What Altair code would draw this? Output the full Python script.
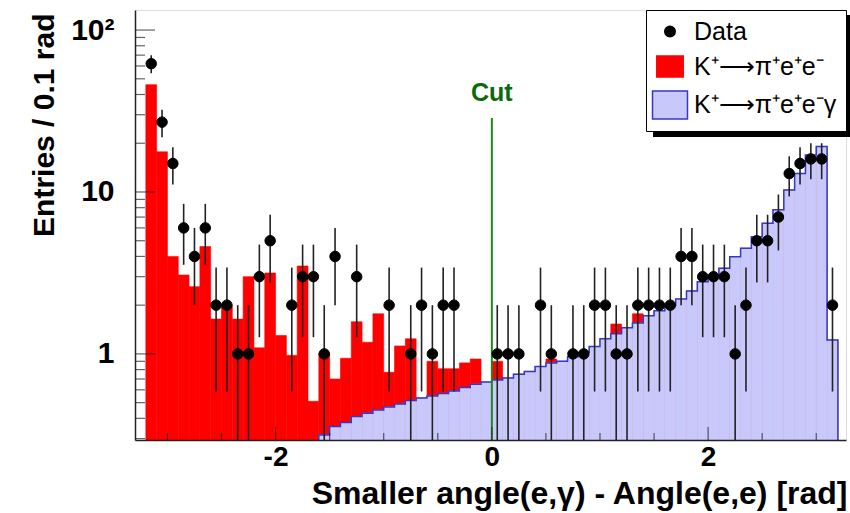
import altair as alt
import numpy as np
import pandas as pd

# ---------------- values ----------------
BIN_LO = -3.2
BIN_WIDTH = 0.1

# data counts per 0.1 rad bin (bins from -3.2 to 3.2)
data_counts = [62, 27, 15, 6, 4, 6, 2, 2, 1, 1, 3, 5, 0, 2, 3, 3,
               1, 4, 0, 3, 0, 0, 2, 0, 1, 2, 1, 2, 2, 0, 0, 0,
               1, 1, 1, 0, 2, 1, 0, 1, 1, 2, 2, 1, 1, 2, 2, 2,
               2, 4, 4, 3, 3, 3, 1, 2, 5, 5, 7, 13, 15, 16, 16, 2]

# K+ -> pi+ e+ e- gamma MC (blue histogram); 0 = below the visible range
eeg_mc = [0, 0, 0, 0, 0, 0, 0, 0, 0, 0, 0, 0, 0, 0, 0, 0,
          0.316, 0.356, 0.377, 0.41, 0.43, 0.45, 0.47, 0.49,
          0.515, 0.535, 0.55, 0.57, 0.59, 0.62, 0.65, 0.67,
          0.69, 0.71, 0.75, 0.78, 0.835, 0.88, 0.90, 0.96,
          1.02, 1.11, 1.24, 1.33, 1.45, 1.55, 1.72, 1.85,
          2.0, 2.18, 2.45, 2.79, 3.07, 3.38, 3.98, 4.49,
          5.3, 6.4, 7.76, 10.3, 13.0, 16.9, 19.1, 1.22]

# top of the stacked K+ -> pi+ e+ e- (red) histogram
stack_top = [46, 17.7, 4.0, 3.07, 2.6, 4.6, 1.64, 1.96,
             1.64, 3.0, 1.09, 3.16, 1.30, 0.98, 3.49, 0.51,
             1.01, 0.70, 0.94, 1.58, 1.18, 1.77, 0.77, 1.12,
             1.24, 0.535, 0.90, 0.81, 0.81, 0.88, 0.93, 0.67,
             0.90, 0.71, 0.75, 0.78, 0.835, 0.93, 0.90, 0.96,
             1.02, 1.11, 1.24, 1.53, 1.45, 1.77, 1.72, 1.85,
             2.0, 2.18, 2.45, 2.79, 3.07, 3.38, 3.98, 4.49,
             5.3, 6.4, 7.76, 10.3, 13.0, 16.9, 19.1, 1.22]

x_major_ticks = [-2, 0, 2]
x_minor_ticks = [-3, -2.5, -1.5, -1, -0.5, 0.5, 1, 1.5, 2.5, 3]
y_major_ticks = [1, 10, 100]
y_minor_ticks = [0.3, 0.4, 0.5, 0.6, 0.7, 0.8, 0.9,
                 2, 3, 4, 5, 6, 7, 8, 9,
                 20, 30, 40, 50, 60, 70, 80, 90]

cut_value = [0.0]
cut_line_top = [28.6]
cut_label_y = [40.8]
cut_label = ["Cut"]

series_names = ["Data", "K⁺⟶π⁺e⁺e⁻", "K⁺⟶π⁺e⁺e⁻γ"]
x_title = "Smaller angle(e,γ) - Angle(e,e) [rad]"
y_title = "Entries / 0.1 rad"

X_DOMAIN = [-3.3, 3.275]
Y_DOMAIN = [0.294, 133]

# ---------------- styling ----------------
W, H = 711, 430
FONT = "Liberation Sans"
RED = "#ff0000"
LAV = "#c8c8fa"
BLUE_LINE = "#3636c8"
RECT_PATH = "M-1.25,-1L1.25,-1L1.25,1L-1.25,1Z"

# ---------------- frames ----------------
n_bins = len(data_counts)
edges = BIN_LO + BIN_WIDTH * np.arange(n_bins + 1)
centers = edges[:-1] + BIN_WIDTH / 2


def bar_frame(values):
    df = pd.DataFrame({"x": edges[:-1], "x1": edges[1:], "y": values,
                       "base": Y_DOMAIN[0]})
    return df[df["y"] > 0]


def step_frame(values):
    vals = list(values)
    start = next(i for i, v in enumerate(vals) if v > 0)
    xs = [edges[start]] + list(edges[start:n_bins]) + [edges[n_bins], edges[n_bins]]
    ys = [Y_DOMAIN[0]] + vals[start:] + [vals[-1], Y_DOMAIN[0]]
    return pd.DataFrame({"x": xs, "y": ys, "idx": np.arange(len(xs))})


red_df = bar_frame(stack_top)
blue_df = bar_frame(eeg_mc)
blue_line_df = step_frame(eeg_mc)

cnt = np.array(data_counts, dtype=float)
pts_df = pd.DataFrame({"x": centers, "y": cnt,
                       "lo": np.maximum(cnt - np.sqrt(cnt), Y_DOMAIN[0]),
                       "hi": cnt + np.sqrt(cnt),
                       "series": series_names[0]})
pts_df = pts_df[pts_df["y"] > 0]

cut_df = pd.DataFrame({"x": cut_value, "top": cut_line_top, "base": Y_DOMAIN[0],
                       "ly": cut_label_y, "label": cut_label})

xscale = alt.Scale(domain=X_DOMAIN, nice=False, zero=False)
yscale = alt.Scale(type="log", domain=Y_DOMAIN, nice=False, clamp=True)

xaxis = alt.Axis(values=x_major_ticks, ticks=False, grid=False, domainColor="#222",
                 domainWidth=1.5, labelFont=FONT, labelFontWeight="bold", labelFontSize=28,
                 labelColor="black", labelPadding=3, labelExpr="'' + datum.value",
                 labelFlush=False, title=x_title, titleFont=FONT, titleFontSize=32,
                 titleFontWeight="bold", titleColor="black", titleX=W + 1, titleY=63,
                 titleAlign="right", titleBaseline="alphabetic", zindex=1)
yaxis = alt.Axis(values=y_major_ticks, ticks=False, grid=False, domainColor="#222",
                 domainWidth=1.5, labelFont=FONT, labelFontWeight="bold", labelFontSize=30,
                 labelColor="black", labelPadding=21,
                 labelExpr="datum.value >= 100 ? '10²' : '' + datum.value",
                 title=y_title, titleFont=FONT, titleFontSize=30, titleFontWeight="bold",
                 titleColor="black", titleAngle=270, titleX=-82, titleY=3,
                 titleAlign="right", titleBaseline="alphabetic", zindex=1)


def X(f):
    return alt.X(f, type="quantitative", scale=xscale, axis=xaxis)


def Y(f):
    return alt.Y(f, type="quantitative", scale=yscale, axis=yaxis)


red_bars = alt.Chart(red_df).mark_bar(color=RED, stroke=RED, strokeWidth=0.6).encode(
    x=X("x"), x2="x1:Q", y=Y("y"), y2="base:Q")

blue_bars = alt.Chart(blue_df).mark_bar(color=LAV, stroke=LAV, strokeWidth=0.6).encode(
    x=X("x"), x2="x1:Q", y=Y("y"), y2="base:Q")

blue_line = alt.Chart(blue_line_df).mark_line(
    interpolate="step-after", color=BLUE_LINE, strokeWidth=1.5).encode(
    x=X("x"), y=Y("y"), order="idx:Q")

cut_rule = alt.Chart(cut_df).mark_rule(color="#1c8a1c", strokeWidth=2).encode(
    x=X("x"), y=Y("base"), y2="top:Q")

cut_text = alt.Chart(cut_df).mark_text(font=FONT, fontSize=25, fontWeight="bold",
                                        color="#0b6a0b", baseline="middle").encode(
    x=X("x"), y=Y("ly"), text="label:N")

errs = alt.Chart(pts_df).mark_rule(color="#222", strokeWidth=1.6).encode(
    x=X("x"), y=Y("lo"), y2="hi:Q")

legend = alt.Legend(orient="none", legendX=511, legendY=0, title=None,
                    fillColor="white", strokeColor="black",
                    padding=9, rowPadding=7, labelFont=FONT, labelFontSize=25,
                    labelColor="black", labelOffset=9, symbolStrokeWidth=1.5,
                    cornerRadius=0, direction="vertical")

pts = alt.Chart(pts_df).mark_point(filled=True, opacity=1, strokeWidth=1).encode(
    x=X("x"), y=Y("y"),
    color=alt.Color("series:N", scale=alt.Scale(domain=series_names, range=["black", RED, LAV]),
                    legend=legend),
    shape=alt.Shape("series:N", scale=alt.Scale(domain=series_names,
                                                range=["circle", RECT_PATH, RECT_PATH]),
                    legend=legend),
    size=alt.Size("series:N", scale=alt.Scale(domain=series_names, range=[110, 784, 784]),
                  legend=legend),
    stroke=alt.Stroke("series:N", scale=alt.Scale(domain=series_names,
                                                  range=["black", RED, BLUE_LINE]),
                      legend=legend),
)

xt_major = alt.Chart(pd.DataFrame({"x": x_major_ticks})).mark_tick(
    orient="vertical", size=13, thickness=1.2, color="#222", yOffset=-6.5).encode(
    x=X("x"), y=alt.value(H))
xt_minor = alt.Chart(pd.DataFrame({"x": x_minor_ticks})).mark_tick(
    orient="vertical", size=7, thickness=1.2, color="#222", yOffset=-3.5).encode(
    x=X("x"), y=alt.value(H))
yt_major = alt.Chart(pd.DataFrame({"y": y_major_ticks})).mark_tick(
    orient="horizontal", size=20, thickness=1.2, color="#222", xOffset=10).encode(
    y=Y("y"), x=alt.value(0))
yt_minor = alt.Chart(pd.DataFrame({"y": y_minor_ticks})).mark_tick(
    orient="horizontal", size=10, thickness=1.2, color="#222", xOffset=5).encode(
    y=Y("y"), x=alt.value(0))

shadow = alt.Chart(pd.DataFrame({"k": [0]})).mark_rect(color="black").encode(
    x=alt.value(518), x2=alt.value(716), y=alt.value(5), y2=alt.value(127))

chart = alt.layer(red_bars, blue_bars, blue_line, cut_rule, errs, pts, cut_text,
                  xt_major, xt_minor, yt_major, yt_minor, shadow).properties(
    width=W, height=H,
    autosize=alt.AutoSizeParams(type="none"),
    padding={"left": 135, "top": 10, "right": 4, "bottom": 73},
    background="white",
).configure_view(stroke="#666", strokeWidth=1).configure(font=FONT)

chart.save("out.html", embed_options={"renderer": "svg", "actions": False})
